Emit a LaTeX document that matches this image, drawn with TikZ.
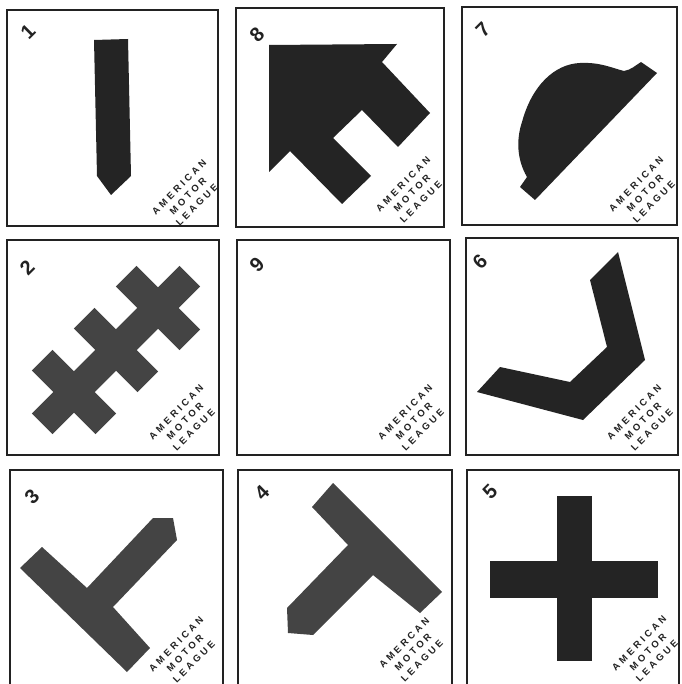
\documentclass[tikz,border=0pt]{standalone}
\usepackage{fontspec}
\newfontfamily\amlfont[LetterSpace=32]{Liberation Sans Bold}
\newfontfamily\digfont{Liberation Sans Bold}
\definecolor{ink}{HTML}{222222}
\definecolor{dark}{HTML}{242424}
\definecolor{mid}{HTML}{444444}
\begin{document}
\begin{tikzpicture}[x=1pt,y=-1pt,
  frame/.style={draw=ink,line width=2.6pt},
  aml/.style={font=\amlfont\fontsize{9.5}{12.5}\selectfont, align=center, rotate=45, inner sep=0pt, text=ink},
  digit/.style={font=\digfont\fontsize{20}{20}\selectfont, rotate=45, inner sep=0pt, text=ink},
  darkfill/.style={fill=dark},
  midfill/.style={fill=mid}]
\fill[white] (0,0) rectangle (681,684);
\useasboundingbox (0,0) rectangle (681,684);
\begin{scope}
\clip (0,0) rectangle (681,684);
% frames
\draw[frame] (7,10) rectangle (218,226);
\draw[frame] (236,8) rectangle (444,227);
\draw[frame] (462,7) rectangle (677,225);
\draw[frame] (7,240) rectangle (219,455);
\draw[frame] (237,240) rectangle (450,455);
\draw[frame] (466,238) rectangle (678,455);
\draw[frame] (10,470) rectangle (223,692);
\draw[frame] (238,470) rectangle (452,692);
\draw[frame] (467,470) rectangle (679,692);
\end{scope}

% panel 1: bar
\fill[darkfill] (94,40) -- (128,39) -- (131,176) -- (111,195) -- (97,176) -- cycle;
% panel 8: arrow
\fill[darkfill] (269,45) -- (397,44) -- (382,62) -- (430,113) -- (398,147) -- (362,110)
  -- (333,138) -- (371,176) -- (342,204) -- (290,151) -- (269,172) -- cycle;
% panel 7: helmet
\fill[darkfill] (527,177) .. controls (517,160) and (516,140) .. (522,122)
  .. controls (532,85) and (555,64) .. (580,63)
  .. controls (600,62) and (612,68) .. (624,71)
  .. controls (631,70) and (636,65) .. (641,62)
  -- (657,73) -- (535,200) -- (520,187) -- cycle;
% panel 2: chain of crosses
\foreach \cx/\cy in {158/308, 116/350, 74/392}{
  \begin{scope}[shift={(\cx,\cy)}, rotate=45]
    \fill[midfill] (-45,-14.5) rectangle (45,14.5);
    \fill[midfill] (-14.5,-45) rectangle (14.5,45);
  \end{scope}
}
% panel 6: chevron
\fill[darkfill] (618,252) -- (645,360) -- (583,420) -- (477,392) -- (500,367)
  -- (570,382) -- (607,347) -- (590,280) -- cycle;
% panel 3
\fill[midfill] (42,547) -- (87,588) -- (153,518) -- (173,518) -- (177,540) -- (113,607)
  -- (150,648) -- (127,672) -- (20,568) -- cycle;
% panel 4
\fill[midfill] (333,483) -- (442,592) -- (420,613) -- (373,575) -- (313,635) -- (288,633)
  -- (287,608) -- (348,545) -- (312,507) -- cycle;
% panel 5: cross
\fill[darkfill] (557,496) rectangle (592,661);
\fill[darkfill] (490,561) rectangle (658,598);

% digits
\node[digit] (n1) at (28,32) {1};
\node[digit] (n8) at (257,35) {8};
\node[digit] (n7) at (483,30) {7};
\node[digit] (n2) at (27,268) {2};
\node[digit] (n9) at (257,265) {9};
\node[digit] (n6) at (480,262) {6};
\node[digit] (n3) at (32,497) {3};
\node[digit] (n4) at (262,493) {4};
\node[digit] (n5) at (490,492) {5};

% league texts
\node[aml] (t1) at (188,196) {AMERICAN\\MOTOR\\LEAGUE};
\node[aml] (t8) at (412,193) {AMERICAN\\MOTOR\\LEAGUE};
\node[aml] (t7) at (645,193) {AMERICAN\\MOTOR\\LEAGUE};
\node[aml] (t2) at (185,421) {AMERICAN\\MOTOR\\LEAGUE};
\node[aml] (t9) at (414,421) {AMERICAN\\MOTOR\\LEAGUE};
\node[aml] (t6) at (643,421) {AMERICAN\\MOTOR\\LEAGUE};
\node[aml] (t3) at (185,653) {AMERICAN\\MOTOR\\LEAGUE};
\node[aml] (t4) at (413,652) {AMER\phantom{I}CAN\\MOTOR\\LEAGUE};
\node[aml] (t5) at (648,652) {AMERICAN\\MOTOR\\LEAGUE};
\end{tikzpicture}
\end{document}
